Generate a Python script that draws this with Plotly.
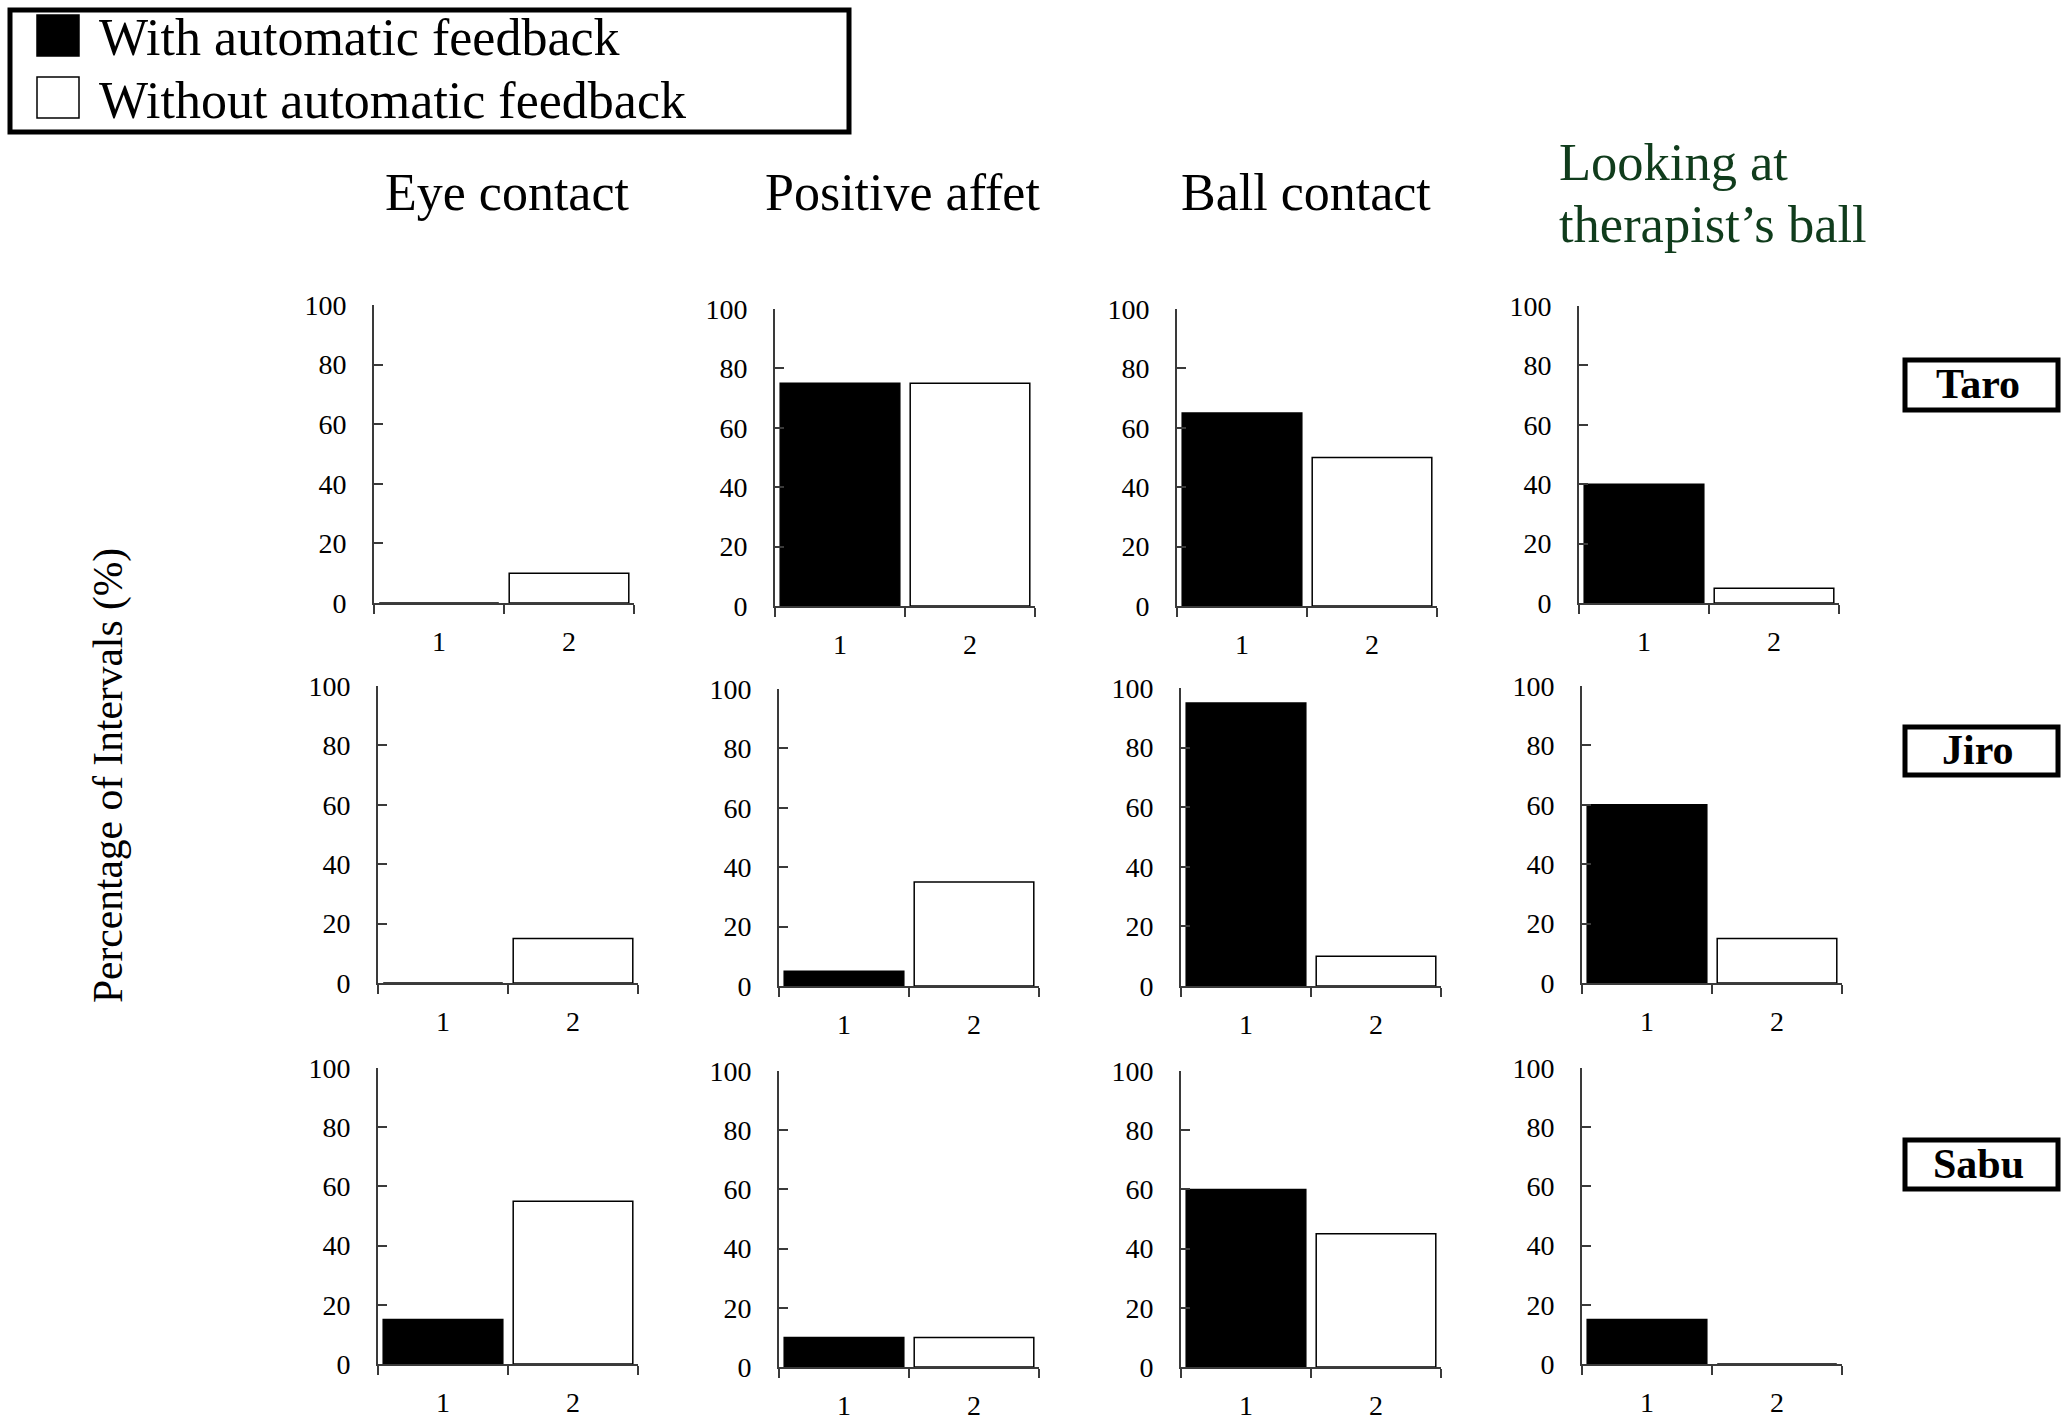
import plotly.graph_objects as go

# ---------------- data ----------------
behaviors = ["Eye contact", "Positive affet", "Ball contact", "Looking at therapist’s ball"]
children = ["Taro", "Jiro", "Sabu"]
conditions = [1, 2]
condition_labels = ["1", "2"]
y_tick_values = [0, 20, 40, 60, 80, 100]
series_names = ["With automatic feedback", "Without automatic feedback"]

# order of each list follows `behaviors`
taro_with = [0, 75, 65, 40]
taro_without = [10, 75, 50, 5]
jiro_with = [0, 5, 95, 60]
jiro_without = [15, 35, 10, 15]
sabu_with = [15, 10, 60, 15]
sabu_without = [55, 10, 45, 0]

with_values = [taro_with, jiro_with, sabu_with]
without_values = [taro_without, jiro_without, sabu_without]

# ---------------- layout geometry (pixels in the 2068x1424 page) ----------------
OX, OY = 0, 0          # page body margin is removed by the post script below
FW, FH = 2068, 1424
plot_left = [[374, 775, 1177, 1579], [378, 779, 1181, 1582], [378, 779, 1181, 1582]]
plot_width = 260
plot_top = [[305, 309, 309, 306], [686, 689, 688, 686], [1068, 1071, 1071, 1068]]
plot_bottom = [[603, 606, 606, 603], [983, 986, 986, 983], [1364, 1367, 1367, 1364]]

FONT = "Liberation Serif, Times New Roman, serif"
AXIS_COLOR = "#3a3a3a"


def px_x(x):
    return (x - OX) / FW


def px_y(y):
    return 1 - (y - OY) / FH


fig = go.Figure()
layout = dict(
    width=FW,
    height=FH,
    autosize=False,
    margin=dict(l=0, r=0, t=0, b=0, pad=0, autoexpand=False),
    paper_bgcolor="white",
    plot_bgcolor="white",
    showlegend=False,
    font=dict(family=FONT, color="black"),
)

idx = 0
for r, child in enumerate(children):
    for c, beh in enumerate(behaviors):
        idx += 1
        suffix = "" if idx == 1 else str(idx)
        vals = [with_values[r][c], without_values[r][c]]
        fig.add_trace(go.Bar(
            x=conditions,
            y=vals,
            width=0.92,
            marker=dict(color=["black", "white"], line=dict(color="black", width=1.5)),
            xaxis="x" + suffix,
            yaxis="y" + suffix,
            name=f"{child} - {beh}",
        ))
        x0 = plot_left[r][c]
        layout["xaxis" + suffix] = dict(
            domain=[px_x(x0), px_x(x0 + plot_width)],
            anchor="y" + suffix,
            automargin=False,
            range=[0.5, 2.5],
            tickvals=conditions,
            ticktext=condition_labels,
            ticks="",
            showline=True,
            linecolor=AXIS_COLOR,
            linewidth=2,
            showgrid=False,
            zeroline=False,
            tickfont=dict(family=FONT, size=28, color="black"),
            ticklabelstandoff=12,
            minor=dict(tickvals=[0.5, 1.5, 2.5], ticks="outside", ticklen=9,
                       tickwidth=2, tickcolor=AXIS_COLOR, showgrid=False),
            fixedrange=True,
        )
        layout["yaxis" + suffix] = dict(
            domain=[px_y(plot_bottom[r][c]), px_y(plot_top[r][c])],
            anchor="x" + suffix,
            automargin=False,
            range=[0, 100],
            tickvals=y_tick_values,
            ticks="inside",
            ticklen=9,
            tickwidth=2,
            tickcolor=AXIS_COLOR,
            showline=True,
            linecolor=AXIS_COLOR,
            linewidth=2,
            showgrid=False,
            zeroline=False,
            tickfont=dict(family=FONT, size=28, color="black"),
            ticklabelstandoff=20,
            fixedrange=True,
        )

annotations = []
shapes = []

# column titles
title_centers = [508, 902, 1306]
for i in range(3):
    annotations.append(dict(
        text=behaviors[i], x=px_x(title_centers[i]), y=px_y(192),
        xref="paper", yref="paper", xanchor="center", yanchor="middle",
        showarrow=False, font=dict(family=FONT, size=52, color="black"),
    ))
green = "#103c1c"
look_lines = ["Looking at", "therapist’s ball"]
for line, yc in zip(look_lines, [161.5, 224]):
    annotations.append(dict(
        text=line, x=px_x(1557), y=px_y(yc),
        xref="paper", yref="paper", xanchor="left", yanchor="middle",
        showarrow=False, font=dict(family=FONT, size=52.5, color=green),
    ))

# y axis title
annotations.append(dict(
    text="Percentage of Intervals (%)", x=px_x(108), y=px_y(776),
    xref="paper", yref="paper", xanchor="center", yanchor="middle",
    textangle=-90, showarrow=False, font=dict(family=FONT, size=41.5, color="black"),
))

# legend box
shapes.append(dict(type="rect", xref="paper", yref="paper",
                   x0=px_x(10), x1=px_x(849), y0=px_y(132), y1=px_y(10),
                   line=dict(color="black", width=5), fillcolor="white", layer="below"))
legend_rows = [(15, 56, 37.8, "black"), (77, 118, 100.8, "white")]
for (ya, yb, yc, col), name in zip(legend_rows, series_names):
    shapes.append(dict(type="rect", xref="paper", yref="paper",
                       x0=px_x(37), x1=px_x(79), y0=px_y(yb), y1=px_y(ya),
                       line=dict(color="black", width=1.5), fillcolor=col))
    annotations.append(dict(
        text=name, x=px_x(97), y=px_y(yc),
        xref="paper", yref="paper", xanchor="left", yanchor="middle",
        showarrow=False, font=dict(family=FONT, size=52, color="black"),
    ))

# child name boxes
name_boxes = [(358, 412), (725, 777), (1138, 1191)]
for child, (ya, yb) in zip(children, name_boxes):
    shapes.append(dict(type="rect", xref="paper", yref="paper",
                       x0=px_x(1905), x1=px_x(2058), y0=px_y(yb - 2), y1=px_y(ya + 2),
                       line=dict(color="black", width=5), fillcolor="white"))
    annotations.append(dict(
        text=f"<b>{child}</b>", x=px_x(1978), y=px_y((ya + yb) / 2 - 1),
        xref="paper", yref="paper", xanchor="center", yanchor="middle",
        showarrow=False, font=dict(family=FONT, size=42, color="black"),
    ))

layout["annotations"] = annotations
layout["shapes"] = shapes
fig.update_layout(**layout)

fig.write_html(
    "out.html",
    config={"displayModeBar": False, "staticPlot": True},
    post_script="document.body.style.margin='0'; document.body.style.overflow='hidden';",
)
